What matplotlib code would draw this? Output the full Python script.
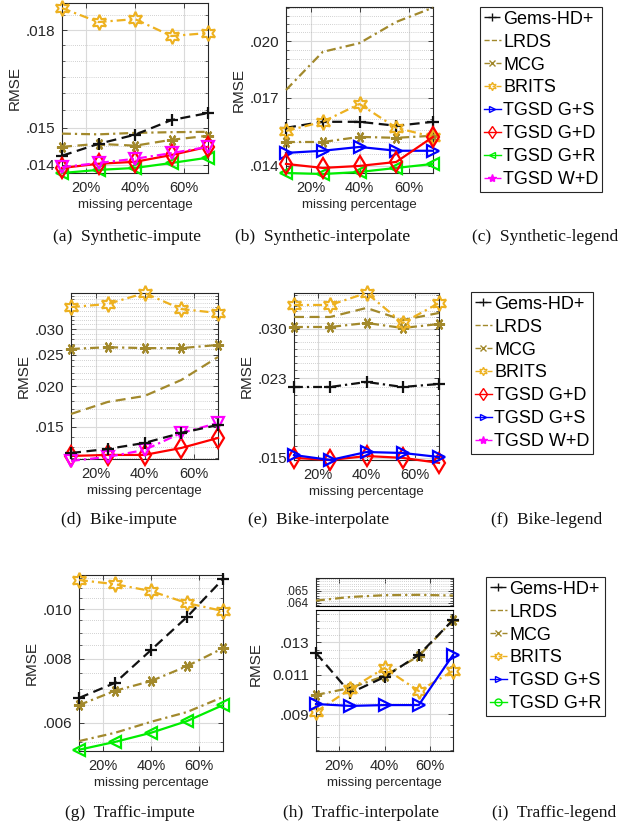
import matplotlib
matplotlib.use('Agg')
import matplotlib.pyplot as plt
from matplotlib.lines import Line2D
from matplotlib.ticker import NullFormatter, NullLocator
import numpy as np

plt.rcParams['font.family'] = ['Liberation Sans', 'DejaVu Sans']

W, H = 619, 827
fig = plt.figure(figsize=(W / 100, H / 100), dpi=100)

# ---------------- data ----------------
missing_pct = [10, 25, 40, 55, 70]
x_ticks = [20, 40, 60]
x_tick_labels = ['20%', '40%', '60%']

# (a) Synthetic-impute
gems_a = [0.01424, 0.01456, 0.01481, 0.01522, 0.01542]
lrds_a = [0.01484, 0.01482, 0.01486, 0.01488, 0.01489]
mcg_a = [0.01448, 0.01456, 0.01451, 0.01467, 0.01478]
brits_a = [0.01875, 0.01827, 0.01837, 0.01780, 0.01790]
gd_a = [0.01392, 0.01403, 0.01408, 0.01426, 0.01448]
gr_a = [0.01379, 0.01387, 0.01392, 0.01405, 0.01419]
wd_a = [0.01394, 0.01405, 0.01416, 0.01431, 0.01448]
yt_a = [0.014, 0.015, 0.018]
yl_a = ['.014', '.015', '.018']

# (b) Synthetic-interpolate
gems_b = [0.01561, 0.01588, 0.01588, 0.01570, 0.01588]
lrds_b = [0.01739, 0.01939, 0.01988, 0.02112, 0.02200]
mcg_b = [0.01499, 0.01499, 0.01521, 0.01517, 0.01526]
brits_b = [0.01547, 0.01588, 0.01671, 0.01561, 0.01521]
gs_b = [0.01453, 0.01462, 0.01478, 0.01462, 0.01462]
gd_b = [0.01408, 0.01392, 0.01400, 0.01416, 0.01521]
gr_b = [0.01372, 0.01368, 0.01376, 0.01392, 0.01408]
yt_b = [0.014, 0.017, 0.020]
yl_b = ['.014', '.017', '.020']

# (d) Bike-impute
gems_d = [0.01246, 0.01282, 0.01338, 0.01436, 0.01520]
lrds_d = [0.01643, 0.01789, 0.01866, 0.02090, 0.02460]
mcg_d = [0.02604, 0.02637, 0.02620, 0.02620, 0.02679]
brits_d = [0.03505, 0.03581, 0.03870, 0.03456, 0.03360]
gd_d = [0.01220, 0.01229, 0.01229, 0.01291, 0.01386]
wd_d = [0.01178, 0.01212, 0.01273, 0.01436, 0.01541]
yt_d = [0.015, 0.020, 0.025, 0.030]
yl_d = ['.015', '.020', '.025', '.030']

# (e) Bike-interpolate
gems_e = [0.02196, 0.02196, 0.02256, 0.02196, 0.02232]
lrds_e = [0.03200, 0.03200, 0.03359, 0.03147, 0.03270]
mcg_e = [0.03032, 0.03032, 0.03098, 0.03016, 0.03081]
brits_e = [0.03413, 0.03413, 0.03640, 0.03098, 0.03450]
gd_e = [0.01500, 0.01483, 0.01515, 0.01500, 0.01460]
gs_e = [0.01523, 0.01483, 0.01548, 0.01540, 0.01507]
yt_e = [0.015, 0.023, 0.030]
yl_e = ['.015', '.023', '.030']

# (g) Traffic-impute
gems_g = [0.00671, 0.00718, 0.00832, 0.00965, 0.01144]
lrds_g = [0.00553, 0.00574, 0.00603, 0.00630, 0.00674]
mcg_g = [0.00650, 0.00693, 0.00724, 0.00774, 0.00839]
brits_g = [0.01139, 0.01118, 0.01084, 0.01027, 0.00991]
gr_g = [0.00532, 0.00551, 0.00574, 0.00605, 0.00650]
yt_g = [0.006, 0.008, 0.010]
yl_g = ['.006', '.008', '.010']

# (h) Traffic-interpolate (broken axis)
lrds_h = [0.0642, 0.0645, 0.06465, 0.06468, 0.06462]
gems_h = [0.01229, 0.01002, 0.01087, 0.01217, 0.01455]
mcg_h = [0.00992, 0.01028, 0.01093, 0.01210, 0.01455]
brits_h = [0.00910, 0.01022, 0.01138, 0.01012, 0.01121]
gs_h = [0.00947, 0.00938, 0.00942, 0.00942, 0.01217]
yt_h_top = [0.064, 0.065]
yl_h_top = ['.064', '.065']
yt_h = [0.009, 0.011, 0.013]
yl_h = ['.009', '0.011', '.013']

legend_c = ['Gems-HD+', 'LRDS', 'MCG', 'BRITS', 'TGSD G+S', 'TGSD G+D', 'TGSD G+R', 'TGSD W+D']
legend_f = ['Gems-HD+', 'LRDS', 'MCG', 'BRITS', 'TGSD G+D', 'TGSD G+S', 'TGSD W+D']
legend_i = ['Gems-HD+', 'LRDS', 'MCG', 'BRITS', 'TGSD G+S', 'TGSD G+R']

captions = ['(a)  Synthetic-impute', '(b)  Synthetic-interpolate', '(c)  Synthetic-legend',
            '(d)  Bike-impute', '(e)  Bike-interpolate', '(f)  Bike-legend',
            '(g)  Traffic-impute', '(h)  Traffic-interpolate', '(i)  Traffic-legend']

# ---------------- styles ----------------
OLIVE = '#A2892C'
GOLD = '#EDB120'
DASH = (0, (4.5, 2.5))
DASHDOT = (0, (4, 1.8, 1, 1.8))
STYLE = {
    'Gems-HD+': dict(color='#111111', ls=DASH, marker='+', ms=9, mew=1.6),
    'LRDS': dict(color=OLIVE, ls=DASHDOT, marker='None'),
    'MCG': dict(color=OLIVE, ls=DASHDOT, marker=(6, 2, 90), ms=8, mew=1.5),
    'BRITS': dict(color=GOLD, ls=DASHDOT, marker=(6, 1, 0), ms=11, mfc='none', mew=1.5),
    'TGSD G+S': dict(color='#0000FF', ls='-', marker='>', ms=9, mfc='none', mew=1.6),
    'TGSD G+D': dict(color='#FF0000', ls='-', marker='d', ms=10, mfc='none', mew=1.6),
    'TGSD G+R': dict(color='#00EE00', ls='-', marker='<', ms=9, mfc='none', mew=1.6),
    'TGSD W+D': dict(color='#FF00FF', ls=DASHDOT, marker='v', ms=9, mfc='none', mew=1.6),
}
LEG_MARK = {
    'Gems-HD+': dict(marker='+', ms=6, mew=1.0),
    'LRDS': dict(marker='None'),
    'MCG': dict(marker='x', ms=4, mew=1.0),
    'BRITS': dict(marker=(6, 1, 0), ms=6, mew=1.0, mfc='none'),
    'TGSD G+S': dict(marker='>', ms=5, mew=1.0, mfc='none'),
    'TGSD G+D': dict(marker='d', ms=6, mew=1.0, mfc='none'),
    'TGSD G+R': dict(marker='<', ms=5, mew=1.0, mfc='none'),
    'TGSD W+D': dict(marker='*', ms=6, mew=1.0),
}


def rect(l, t, r, b):
    return [l / W, 1 - b / H, (r - l) / W, (b - t) / H]


def style_axes(ax, xlabels=True):
    ax.set_axisbelow(True)
    ax.tick_params(which='both', direction='in', top=True, right=True, colors='#262626')
    ax.tick_params(which='major', length=3.5, width=0.6, labelsize=11)
    ax.tick_params(which='minor', length=2, width=0.5)
    ax.tick_params(axis='x', labelsize=10.5, pad=6)
    ax.tick_params(axis='y', pad=5)
    for s in ax.spines.values():
        s.set_color('#262626')
        s.set_linewidth(0.8)
    ax.set_xlim(missing_pct[0], missing_pct[-1])
    ax.set_xticks(x_ticks, x_tick_labels if xlabels else [])
    ax.xaxis.set_minor_locator(NullLocator())
    ax.grid(which='major', color='#dadada', lw=0.8, ls='-')
    ax.grid(which='minor', axis='y', color='#a8a8a8', lw=0.5, ls=(0, (1, 2)))
    if xlabels:
        ax.set_xlabel('missing percentage', fontsize=9.5, color='#262626', labelpad=2.5)


def set_y(ax, ylim, ticks, labels, minor_step, log=True):
    if log:
        ax.set_yscale('log')
    ax.set_ylim(*ylim)
    ax.set_yticks(ticks, labels)
    lo = np.ceil(ylim[0] / minor_step) * minor_step
    minors = np.arange(lo, ylim[1], minor_step)
    ax.set_yticks(minors, minor=True)
    ax.yaxis.set_minor_formatter(NullFormatter())
    ax.set_ylabel('RMSE', fontsize=11, color='#262626', labelpad=3)


def draw(ax, name, y, ls=None):
    st = dict(STYLE[name])
    if ls is not None:
        st['ls'] = ls
    ax.plot(missing_pct, y, lw=1.6, clip_on=False, zorder=3, **st)


def legend(names, l, t):
    handles = []
    for n in names:
        st = STYLE[n]
        mk = dict(LEG_MARK[n])
        if n == 'TGSD G+R' and names is legend_i:
            mk = dict(marker='o', ms=5, mew=1.0, mfc='none')
        handles.append(Line2D([], [], color=st['color'], ls='--' if n == 'LRDS' else st['ls'],
                              lw=1.0, **mk))
    lg = fig.legend(handles, names, loc='upper left', bbox_to_anchor=(l / W, 1 - t / H),
                    fontsize=13, handlelength=0.95, handletextpad=0.15, borderpad=0.2,
                    labelspacing=0.33, borderaxespad=0, fancybox=False, framealpha=1,
                    edgecolor='#262626')
    lg.get_frame().set_linewidth(0.8)
    return lg


# (a)
ax = fig.add_axes(rect(62, 3, 208, 173))
style_axes(ax)
set_y(ax, (0.01379, 0.01893), yt_a, yl_a, 0.0005)
draw(ax, 'LRDS', lrds_a)
draw(ax, 'MCG', mcg_a, ls=DASH)
draw(ax, 'Gems-HD+', gems_a)
draw(ax, 'BRITS', brits_a)
draw(ax, 'TGSD G+R', gr_a)
draw(ax, 'TGSD G+D', gd_a)
draw(ax, 'TGSD W+D', wd_a)

# (b)
ax = fig.add_axes(rect(286, 7, 433, 173))
style_axes(ax)
set_y(ax, (0.01372, 0.02204), yt_b, yl_b, 0.0005)
draw(ax, 'LRDS', lrds_b)
draw(ax, 'MCG', mcg_b)
draw(ax, 'Gems-HD+', gems_b)
draw(ax, 'BRITS', brits_b)
draw(ax, 'TGSD G+S', gs_b)
draw(ax, 'TGSD G+R', gr_b)
draw(ax, 'TGSD G+D', gd_b)

legend(legend_c, 480, 7)

# (d)
ax = fig.add_axes(rect(71, 293, 218, 459))
style_axes(ax)
set_y(ax, (0.01194, 0.03872), yt_d, yl_d, 0.001)
draw(ax, 'LRDS', lrds_d, ls=DASH)
draw(ax, 'MCG', mcg_d)
draw(ax, 'BRITS', brits_d)
draw(ax, 'TGSD G+D', gd_d)
draw(ax, 'TGSD W+D', wd_d)
draw(ax, 'Gems-HD+', gems_d)

# (e)
ax = fig.add_axes(rect(294, 293, 439, 460))
style_axes(ax)
set_y(ax, (0.01483, 0.03640), yt_e, yl_e, 0.001)
draw(ax, 'LRDS', lrds_e, ls=DASH)
draw(ax, 'MCG', mcg_e)
draw(ax, 'BRITS', brits_e)
draw(ax, 'Gems-HD+', gems_e, ls=DASHDOT)
draw(ax, 'TGSD G+D', gd_e)
draw(ax, 'TGSD G+S', gs_e)

legend(legend_f, 471, 292)

# (g)
ax = fig.add_axes(rect(79, 575, 223, 751))
style_axes(ax)
set_y(ax, (0.00529, 0.01165), yt_g, yl_g, 0.0005)
draw(ax, 'LRDS', lrds_g)
draw(ax, 'MCG', mcg_g)
draw(ax, 'BRITS', brits_g)
draw(ax, 'Gems-HD+', gems_g)
draw(ax, 'TGSD G+R', gr_g)

# (h) top band
axt = fig.add_axes(rect(316, 578, 453, 606))
style_axes(axt, xlabels=False)
set_y(axt, (0.06375, 0.06608), yt_h_top, yl_h_top, 0.0002, log=False)
axt.set_ylabel('')
axt.tick_params(axis='y', which='major', labelsize=8.5)
axt.spines['bottom'].set_color('black')
axt.tick_params(axis='x', which='both', bottom=False)
draw(axt, 'LRDS', lrds_h)
# (h) bottom
ax = fig.add_axes(rect(316, 610, 453, 751))
style_axes(ax)
set_y(ax, (0.00745, 0.01531), yt_h, yl_h, 0.0005)
ax.spines['top'].set_color('black')
ax.tick_params(axis='x', which='both', top=False)
ax.yaxis.set_label_coords(-0.39, 0.62)
draw(ax, 'MCG', mcg_h)
draw(ax, 'Gems-HD+', gems_h)
draw(ax, 'BRITS', brits_h)
draw(ax, 'TGSD G+S', gs_h)

legend(legend_i, 486, 577)

# captions
cap_pos = [(127, 237), (323, 237), (545, 237),
           (119, 520), (319, 520), (547, 520),
           (130, 813), (361, 813), (554, 813)]
for txt, (cx, cy) in zip(captions, cap_pos):
    fig.text(cx / W, 1 - cy / H, txt, ha='center', va='center', fontsize=12.5,
             family=['Liberation Serif', 'DejaVu Serif'], color='#111111')

fig.savefig('out.png', dpi=100)
